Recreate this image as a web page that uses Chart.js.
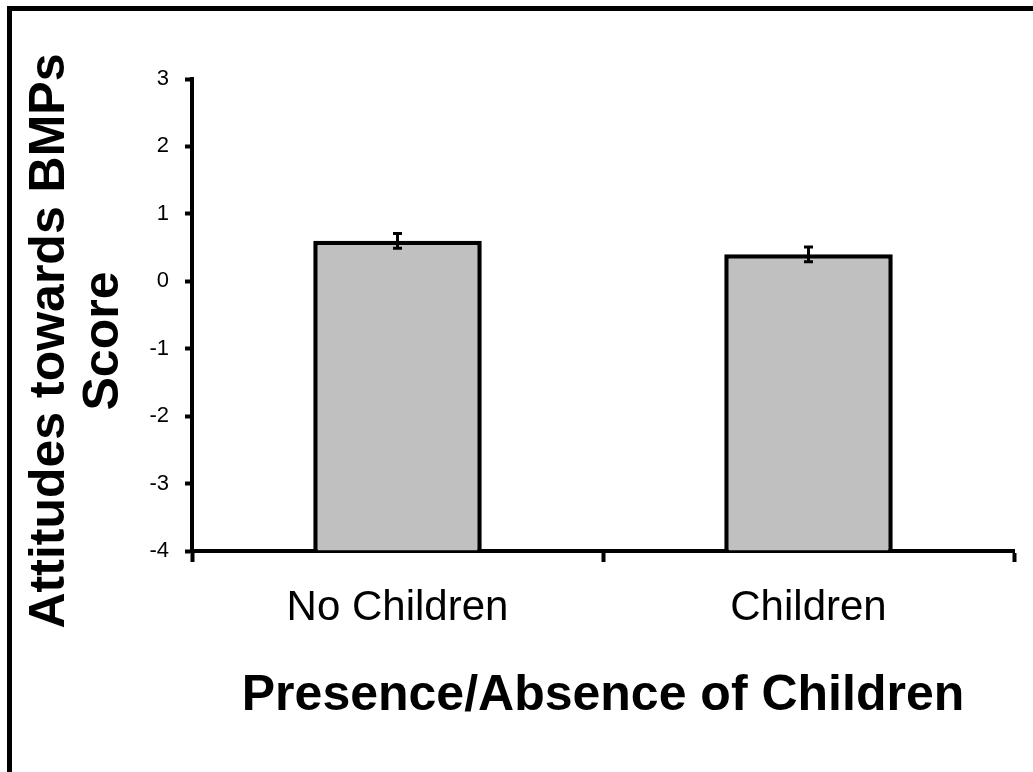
<!DOCTYPE html>
<html>
<head>
<meta charset="utf-8">
<script src="https://cdn.jsdelivr.net/npm/chart.js@4.4.1/dist/chart.umd.min.js"></script>
<style>
  html, body { margin: 0; padding: 0; background: #fff; overflow: hidden; }
  #wrap { width: 1033px; height: 772px; overflow: hidden; }
  canvas { display: block; }
</style>
</head>
<body>
<div id="wrap"><canvas id="c" width="1033" height="772"></canvas></div>
<script>
// ---- data ----
const categories = ['No Children', 'Children'];
const meanScores = [0.6, 0.4];
const errorValues = [0.11, 0.11];
const yTickValues = [-4, -3, -2, -1, 0, 1, 2, 3];
const xAxisTitle = 'Presence/Absence of Children';
const yAxisTitle = ['Attitudes towards BMPs', 'Score'];

const FONT = "'Liberation Sans', Arial, sans-serif";

const framePlugin = {
  id: 'frame',
  beforeDraw(chart) {
    const ctx = chart.ctx;
    ctx.save();
    ctx.fillStyle = '#fff';
    ctx.fillRect(0, 0, chart.width, chart.height);
    ctx.fillStyle = '#000';
    ctx.fillRect(7, 6, 5, chart.height - 6);
    ctx.fillRect(7, 6, chart.width - 7, 5);
    ctx.restore();
  },
  afterDraw(chart) {
    const ctx = chart.ctx;
    ctx.save();
    ctx.fillStyle = '#fff';
    ctx.fillRect(chart.width - 8, 11, 8, chart.height - 11);
    ctx.restore();
  }
};

const yTitlePlugin = {
  id: 'yTitle',
  afterDraw(chart) {
    const ctx = chart.ctx;
    ctx.save();
    ctx.fillStyle = '#000';
    ctx.font = "bold 50px " + FONT;
    ctx.textAlign = 'center';
    ctx.textBaseline = 'alphabetic';
    const baselines = [64, 118];
    yAxisTitle.forEach((line, i) => {
      ctx.save();
      ctx.translate(baselines[i], 341);
      ctx.rotate(-Math.PI / 2);
      ctx.fillText(line, 0, 0);
      ctx.restore();
    });
    ctx.restore();
  }
};

const errorBarPlugin = {
  id: 'errorBars',
  afterDatasetsDraw(chart) {
    const ctx = chart.ctx;
    const meta = chart.getDatasetMeta(0);
    const y = chart.scales.y;
    ctx.save();
    ctx.strokeStyle = '#000';
    ctx.lineWidth = 3;
    meta.data.forEach((bar, i) => {
      const x = bar.x;
      const top = y.getPixelForValue(meanScores[i] + errorValues[i]);
      const bot = y.getPixelForValue(meanScores[i] - errorValues[i]);
      const cap = 4.5;
      ctx.beginPath();
      ctx.moveTo(x, top); ctx.lineTo(x, bot);
      ctx.moveTo(x - cap, top); ctx.lineTo(x + cap, top);
      ctx.moveTo(x - cap, bot); ctx.lineTo(x + cap, bot);
      ctx.stroke();
    });
    ctx.restore();
  }
};

new Chart(document.getElementById('c'), {
  type: 'bar',
  data: {
    labels: categories,
    datasets: [{
      data: meanScores,
      base: yTickValues[0],
      backgroundColor: '#c0c0c0',
      borderColor: '#000',
      borderWidth: 4.5,
      borderSkipped: 'start',
      barPercentage: 0.41,
      categoryPercentage: 1.0
    }]
  },
  options: {
    responsive: false,
    animation: false,
    layout: { padding: { left: 0, top: 79, right: 19, bottom: 0 } },
    plugins: { legend: { display: false }, tooltip: { enabled: false } },
    scales: {
      x: {
        offset: true,
        grid: {
          offset: true,
          drawOnChartArea: false,
          drawTicks: true,
          tickLength: 11,
          tickWidth: 4,
          tickColor: '#000'
        },
        border: { display: true, color: '#000', width: 4 },
        ticks: {
          color: '#000',
          padding: 21,
          font: { family: FONT, size: 42 }
        },
        title: {
          display: true,
          text: xAxisTitle,
          color: '#000',
          padding: { top: 0, bottom: 46 },
          font: { family: FONT, size: 50, weight: 'bold', lineHeight: 1.2 }
        },
        afterFit(scale) { scale.height = 772 - 551; }
      },
      y: {
        min: yTickValues[0],
        max: yTickValues[yTickValues.length - 1],
        afterBuildTicks(scale) { scale.ticks = yTickValues.map(v => ({ value: v })); },
        grid: {
          drawOnChartArea: false,
          drawTicks: true,
          tickLength: 7,
          tickWidth: 4,
          tickColor: '#000'
        },
        border: { display: true, color: '#000', width: 4 },
        ticks: {
          color: '#000',
          padding: 16,
          font: { family: FONT, size: 22 }
        },
        title: { display: false },
        afterFit(scale) { scale.width = 192; }
      }
    }
  },
  plugins: [framePlugin, errorBarPlugin, yTitlePlugin]
});
</script>
</body>
</html>
